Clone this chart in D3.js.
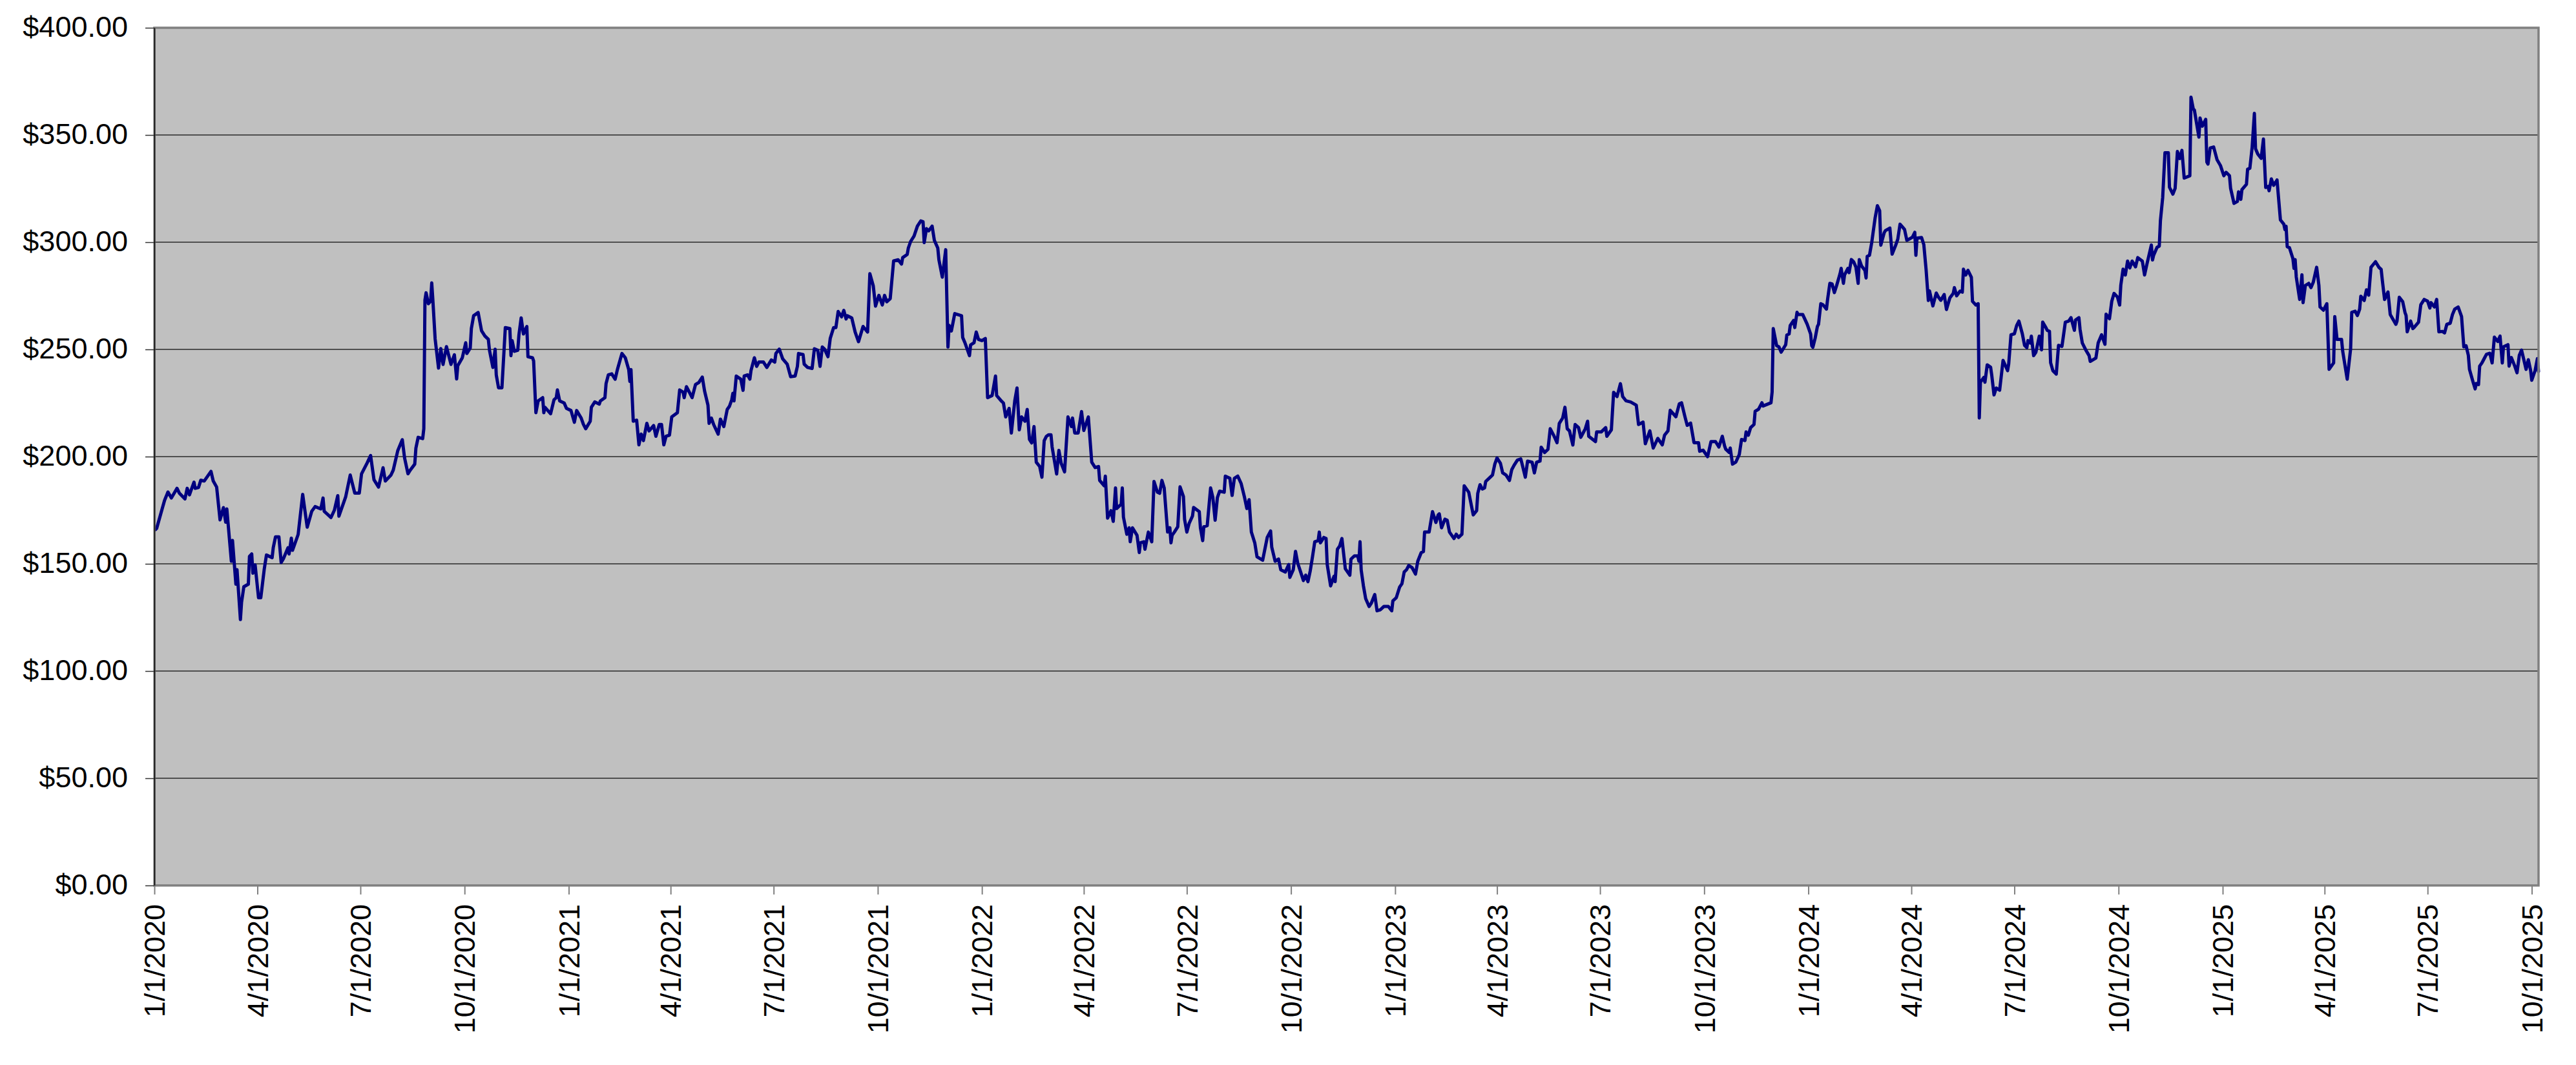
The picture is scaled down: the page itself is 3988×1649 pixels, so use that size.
<!DOCTYPE html>
<html><head><meta charset="utf-8">
<script src="https://cdn.jsdelivr.net/npm/d3@7"></script>
<style>html,body{margin:0;padding:0;background:#fff;} svg{display:block;}</style>
</head><body><svg id="chart" width="3988" height="1649"></svg>
<script>
const dates2020 = [
"01-02","01-03","01-10","01-13","01-16","01-21","01-23","01-28","01-30","02-01",
"02-05","02-06","02-09","02-11","02-14","02-20","02-22","02-25","02-28","03-02",
"03-04","03-05","03-09","03-10","03-13","03-14","03-17","03-18","03-20","03-24",
"03-25","03-27","03-28","03-30","04-02","04-04","04-07","04-09","04-14","04-15",
"04-17","04-20","04-22","04-24","04-28","04-29","05-01","05-02","05-07","05-11",
"05-15","05-19","05-22","05-27","05-29","05-30","06-05","06-08","06-11","06-12",
"06-18","06-22","06-26","06-30","07-02","07-07","07-10","07-13","07-17","07-21",
"07-23","07-28","07-30","08-03","08-07","08-09","08-12","08-14","08-18","08-19",
"08-21","08-25","08-26","08-27","08-28","08-30","09-01","09-02","09-03","09-05",
"09-08","09-10","09-12","09-15","09-19","09-22","09-24","09-25","09-29","10-02",
"10-03","10-06","10-07","10-09","10-13","10-16","10-19","10-22","10-23","10-26",
"10-28","10-29","10-31","11-03","11-06","11-10","11-11","11-12","11-14","11-17",
"11-18","11-20","11-22","11-25","11-26","11-30","12-01","12-03","12-05","12-09",
"12-10","12-11","12-16","12-19","12-21","12-22","12-24","12-28","12-30"];
const prices2020 = [
166,166.5,179.6,183.5,180.7,185.2,183,180.3,185.2,182.2,
188.1,185.2,185.6,189,188.6,193.1,188.6,185.8,170.5,176.2,
169.4,175.6,151.2,160.9,140.5,147.3,124,132,139.3,140.5,
153.5,154.6,145.6,149.5,134.2,134.2,147.3,154.1,152.9,157.5,
162.6,162.6,150.6,152.4,157.5,154.6,162,156.3,163.7,182.4,
167.1,174.5,176.7,175.6,180.7,174.5,171.6,175,181.8,172.2,
181.3,191.4,183,183,192,197.1,200.5,189.2,185.8,194.8,
188.6,191.4,193.7,202.8,207.9,199.4,192,193.7,196.5,203.9,
209,208.4,213,273,276.4,271.3,272.5,281,273,254.9,
241.3,250.4,243,251.3,243,247.5,236.2,242.4,246.1,253.1,
248.1,250.6,259.7,265.7,267.2,258.7,256.2,254.7,249.6,241.6,
250.1,238.1,232.1,232.1,260.2,259.7,247.1,254.1,249.1,249.6,
256.7,264.7,257.2,260.7,246.6,246.1,244.6,220.5,226,227.5,
220.5,223,220,226.5,227.5,231.1,226,225,222.5];

const dates2021 = [
"01-03","01-06","01-08","01-12","01-14","01-16","01-20","01-21","01-24","01-28",
"01-29","02-02","02-03","02-05","02-08","02-11","02-13","02-17","02-20","02-23",
"02-24","02-25","02-27","03-02","03-04","03-06","03-08","03-11","03-13","03-17",
"03-19","03-22","03-24","03-26","03-28","03-31","04-02","04-07","04-09","04-12",
"04-13","04-15","04-17","04-20","04-23","04-26","04-29","05-01","05-04","05-05",
"05-07","05-09","05-13","05-15","05-18","05-21","05-23","05-25","05-26","05-27",
"05-29","06-02","06-04","06-05","06-08","06-10","06-11","06-14","06-16","06-18",
"06-22","06-25","06-29","07-02","07-03","07-06","07-09","07-13","07-16","07-20",
"07-22","07-23","07-27","07-28","07-31","08-04","08-06","08-09","08-11","08-13",
"08-15","08-18","08-20","08-23","08-25","08-27","08-30","09-01","09-03","09-04",
"09-08","09-11","09-14","09-18","09-22","09-24","09-27","09-29","10-02","10-05",
"10-07","10-09","10-12","10-15","10-19","10-22","10-23","10-27","10-28","10-30",
"11-02","11-05","11-08","11-10","11-11","11-13","11-15","11-18","11-20","11-23",
"11-24","11-27","11-30","12-02","12-03","12-05","12-08","12-14","12-15","12-17",
"12-21","12-22","12-25","12-27","12-29"];
const prices2021 = [
221.5,216,221.5,218,215,213,216.5,223,225.5,224.5,
226,227.5,234.1,238.1,238.6,236.1,240.6,248.1,246.1,240.6,
235.1,240.6,216.5,217,205.5,210.5,207.5,215.5,212,214.5,
209.5,215,215,205.5,209.5,210,218.5,220.5,231.1,230.1,
227.5,232.6,230.6,227.5,233.6,234.6,237.1,230.6,224,215.5,
218,215,210.5,217.5,214,222,223.5,226.5,229.5,226,
237.6,236.1,230.9,237.6,238.1,236.1,240.1,246.1,242.1,244.1,
244.1,241.6,245.1,244.1,248.1,250.1,245.6,243.1,237.3,237.6,
242.1,248.1,247.6,243.1,241.6,241.1,250.3,249.6,242.1,251.1,
250.1,246.6,255.1,260.2,260.2,267.7,265.2,268.2,264.2,265.7,
264.7,258.1,253.6,260.7,258.1,285.3,279.7,270.2,275.2,270.7,
275.2,272.2,273.7,291.3,291.8,289.8,292.8,294.3,297.3,300.3,
302.8,307.5,309.9,309.5,299.8,306.3,305.3,307.5,300.8,297.3,
291.8,283.7,296.5,251.1,261.2,258.6,266.7,265.7,255.6,253.1,
247.1,252.1,253.1,258.1,254.6];

const dates2022 = [
"01-01","01-04","01-06","01-10","01-13","01-14","01-18","01-20","01-22","01-25",
"01-27","01-30","02-01","02-03","02-05","02-08","02-10","02-12","02-14","02-16",
"02-18","02-21","02-23","02-25","02-27","03-01","03-03","03-04","03-08","03-10",
"03-12","03-15","03-18","03-21","03-22","03-24","03-27","03-30","04-01","04-05",
"04-08","04-11","04-14","04-15","04-19","04-20","04-22","04-25","04-27","04-29",
"04-30","05-04","05-05","05-06","05-09","05-11","05-12","05-14","05-18","05-20",
"05-21","05-24","05-25","05-28","05-31","06-02","06-05","06-07","06-09","06-11",
"06-14","06-16","06-17","06-18","06-20","06-23","06-25","06-28","06-29","07-01",
"07-03","07-06","07-07","07-12","07-13","07-15","07-16","07-19","07-22","07-24",
"07-26","07-28","07-30","08-03","08-04","08-08","08-10","08-12","08-15","08-18",
"08-21","08-23","08-25","08-27","08-30","09-01","09-06","09-10","09-13","09-14",
"09-17","09-20","09-22","09-26","09-29","09-30","10-03","10-05","10-07","10-12",
"10-14","10-16","10-18","10-20","10-22","10-25","10-26","10-27","10-30","11-01",
"11-02","11-05","11-08","11-09","11-11","11-13","11-15","11-18","11-22","11-23",
"11-26","11-29","11-30","12-01","12-02","12-04","12-06","12-09","12-11","12-14",
"12-16","12-19","12-22","12-26","12-29","12-30"];
const prices2022 = [
254.1,255.1,227.5,228.5,237.6,228.5,226,225,218.5,222.5,
211,226,232,212.5,218.5,216.5,222,208,206.4,214,
197.4,195.4,190.4,207.4,209.5,210.2,210.2,204.5,191.9,202.9,
196.9,192.9,218.5,214,218,211,211,221,212.2,218.5,
197.4,194.9,195.4,188.9,186.4,190.9,171.3,174.8,169.8,185.4,
175.8,177.8,185.4,171.8,163.8,166.8,160.3,166.8,163.3,155.3,
159.8,160.3,156.8,164.8,160.3,188.4,183.4,182.9,188.9,185.4,
164.8,166.8,159.8,163.3,164.8,167.3,185.9,181.4,170.8,164.8,
168.8,172.3,176.3,174.3,166.8,160.8,167.3,167.8,185.4,180.9,
170.3,180.9,183.9,183.4,190.9,189.9,181.9,189.9,190.9,187.4,
180.9,175.8,179.9,164.8,159.8,153.3,151.7,162.3,165.3,157.8,
151.2,152.2,147.2,146.2,149.7,143.7,147.2,155.8,150.2,142.2,
144.7,141.7,146.7,153.3,160.3,160.8,164.8,159.8,162.3,161.8,
149.7,139.7,144.2,141.7,156.8,158.3,161.8,147.7,144.7,152.2,
153.7,153.7,151.2,160.3,147.2,139.7,133.7,130.1,131.7,135.7,
128.1,128.6,130.1,130.1,128.1,132.7];

const dates2023 = [
"01-02","01-05","01-07","01-09","01-11","01-13","01-16","01-19","01-21","01-24",
"01-26","01-27","01-31","02-03","02-06","02-08","02-09","02-11","02-14","02-16",
"02-18","02-22","02-24","02-26","03-01","03-03","03-07","03-11","03-14","03-15",
"03-17","03-19","03-21","03-22","03-26","03-28","03-30","04-01","04-04","04-06",
"04-09","04-12","04-14","04-16","04-19","04-22","04-23","04-26","04-28","05-02",
"05-04","05-06","05-09","05-10","05-13","05-16","05-18","05-21","05-24","05-26",
"05-29","05-31","06-02","06-04","06-07","06-09","06-12","06-14","06-16","06-18",
"06-20","06-21","06-27","06-28","07-02","07-06","07-07","07-11","07-13","07-16",
"07-19","07-21","07-24","07-28","08-02","08-04","08-06","08-08","08-10","08-14",
"08-17","08-21","08-25","08-27","08-30","09-01","09-06","09-09","09-11","09-14",
"09-16","09-19","09-22","09-26","09-27","09-30","10-04","10-07","10-11","10-14",
"10-17","10-19","10-20","10-23","10-24","10-26","10-29","11-01","11-03","11-06",
"11-07","11-09","11-11","11-14","11-15","11-18","11-21","11-22","11-29","11-30",
"12-01","12-04","12-06","12-08","12-12","12-13","12-15","12-16","12-19","12-20",
"12-22","12-23","12-27","12-31"];
const prices2023 = [
134.2,139.2,140.7,146.2,147.2,149.2,148.2,145.2,151.2,155.2,
155.7,164.8,164.8,174.3,169.3,172.8,173.3,166.8,170.8,170.3,
164.8,161.8,163.8,162.3,163.8,186.4,183.4,172.8,174.8,182.9,
186.9,184.9,185.4,188.4,190.4,191.4,196.4,199.4,196.9,192.4,
191.4,188.9,193.9,195.9,198.4,198.9,196.9,190.4,197.9,197.4,
192.4,197.4,197.9,204.4,201.9,203.4,213,210,206.5,215.5,
218,223,213,212,205.4,215,213.5,209,211,213,
216.5,209.5,207,211.5,211.5,213.5,209.5,212.5,230,228,
234,228,226,225.5,224,215,215.5,216.1,206,212,
204,208.5,205.5,210,212,221.6,218.6,224.6,225.1,218.6,
214.6,215.6,206.5,206.5,202.5,203,200,207,207,204.5,
209.5,205,203.5,202,204,196.5,197.5,201,208,207.5,
211.5,210,213.5,215,221.1,222.1,225.1,223.6,225.1,230.1,
259.7,251.7,251.2,248.7,252.2,256.7,257.2,261.2,263.5,260.2,
267.3,266.3,266.3,261.7];

const dates2024 = [
"01-03","01-04","01-05","01-07","01-09","01-10","01-12","01-14","01-17","01-18",
"01-20","01-22","01-24","01-26","01-29","01-30","02-01","02-02","02-05","02-06",
"02-08","02-10","02-12","02-14","02-15","02-17","02-20","02-21","02-22","02-24",
"02-26","02-29","03-02","03-04","03-05","03-08","03-09","03-13","03-15","03-18",
"03-20","03-22","03-24","03-26","03-28","03-30","04-02","04-04","04-05","04-06",
"04-10","04-12","04-14","04-16","04-17","04-20","04-23","04-25","04-27","04-30",
"05-02","05-05","05-08","05-09","05-11","05-14","05-16","05-17","05-19","05-21",
"05-24","05-25","05-28","05-30","05-31","06-01","06-04","06-05","06-07","06-10",
"06-11","06-13","06-15","06-18","06-21","06-25","06-26","06-28","07-01","07-03",
"07-05","07-08","07-10","07-12","07-13","07-15","07-16","07-18","07-20","07-23",
"07-25","07-26","07-29","07-30","08-01","08-02","08-04","08-07","08-09","08-12",
"08-13","08-15","08-18","08-20","08-23","08-24","08-27","08-28","08-30","09-02",
"09-05","09-06","09-11","09-13","09-16","09-19","09-20","09-23","09-25","09-27",
"09-30","10-02","10-03","10-05","10-07","10-09","10-11","10-13","10-16","10-18",
"10-22","10-24","10-26","10-30","10-31","11-01","11-04","11-06","11-07","11-09",
"11-11","11-14","11-15","11-18","11-20","11-22","11-24","11-26","11-28","12-03",
"12-04","12-06","12-07","12-11","12-12","12-14","12-17","12-18","12-19","12-21",
"12-24","12-27","12-30"];
const prices2024 = [
257.2,251.7,251,255.2,260.7,261.7,271.3,270.8,268.8,273.3,
280.8,280.5,276.5,279.8,285.3,287.8,280.8,284.8,287.8,285.8,
291.9,290.9,288.4,280.8,291.9,288.9,286.8,283.3,293.4,293.9,
299.9,311.4,317,314.7,298.6,304.4,305.4,306.6,294.4,298.4,
301.4,308.4,307.2,305.9,300.9,301.4,302.4,304.6,293.9,301.9,
302.2,298.9,287.3,272.8,277.3,270.3,276.3,274.3,272.9,275.6,
268.6,274,276.1,278.8,275,277.2,276.7,287.4,284.7,286.9,
283.6,272.4,270.7,271.3,218,234.7,236.9,234.7,242.8,241.7,
238,228.8,232,231,244.9,240.1,243.3,256.8,257.3,261.1,
263.2,257.3,251.9,250.8,254.1,253,256.2,247.1,248.7,256.2,
249.8,262.7,260,258.9,258.4,243.8,240.1,238.5,251.9,251.4,
255.1,262.7,263.2,264.8,258.9,263.7,264.8,259.4,253,249.8,
247.1,244.4,246,253,256.8,252.4,266.4,264.3,272.4,276.1,
274.5,270.7,279.9,287.4,284.7,291.2,288,291.2,288.5,292.8,
291.2,284.7,289.6,298.7,291.7,293.9,297.6,298.2,310,320.8,
341.7,341.7,325.6,322.4,325.1,342.3,339,342.8,329.9,331,
367.6,362.2,361.6,349,357.9,354.1,357.3,337.4,336.4,343.9,
344.4,338.5,335.8];

const dates2025 = [
"01-02","01-04","01-07","01-08","01-11","01-14","01-15","01-17","01-18","01-22",
"01-23","01-25","01-27","01-29","01-30","02-01","02-04","02-06","02-08","02-10",
"02-11","02-13","02-15","02-18","02-21","02-24","02-25","02-26","02-27","03-01",
"03-04","03-05","03-06","03-07","03-10","03-12","03-13","03-15","03-18","03-20",
"03-22","03-25","03-27","03-28","03-31","04-03","04-05","04-09","04-10","04-12",
"04-16","04-17","04-21","04-24","04-25","04-28","04-30","05-02","05-03","05-06",
"05-08","05-10","05-12","05-16","05-19","05-21","05-22","05-24","05-27","05-29",
"06-03","06-04","06-06","06-09","06-11","06-12","06-13","06-16","06-18","06-19",
"06-23","06-25","06-28","07-01","07-03","07-04","07-07","07-09","07-11","07-14",
"07-16","07-18","07-21","07-23","07-25","07-28","07-31","08-02","08-04","08-06",
"08-07","08-10","08-12","08-13","08-15","08-16","08-18","08-20","08-22","08-25",
"08-27","08-29","09-01","09-03","09-05","09-06","09-10","09-11","09-13","09-16",
"09-18","09-20","09-22","09-24","09-26","09-28","09-30","10-01","10-04","10-06",
"10-07"];
const prices2025 = [
331,332.6,331,325.1,318.1,319,323.5,320,324.5,327,
334,334.5,344.1,360.1,343.6,341.1,339.1,348.1,325.5,326,
324,329.5,326.5,329,310.4,308.4,305.9,307.4,297.9,297.4,
292.4,287.8,291.9,283.8,273.3,284.8,271.8,279.8,280.8,278.8,
281.3,288.3,279.8,269.8,268.3,271.3,240.7,243.7,265.3,254.7,
254.7,249.2,236.1,250.2,267.3,267.8,265.8,268.8,274.8,272.8,
277.8,275.3,288.3,290.9,288.3,287.3,282.3,273.3,276.8,266.3,
261.7,263.2,274.3,272.3,267.3,265.8,258.2,263.2,259.7,260.2,
262.7,270.8,273.3,272.5,269.3,271.8,269.8,273.3,258.2,258.4,
257.7,261.7,262.2,266.3,268.8,269.8,265.3,251.2,251.7,247.2,
240.7,235.1,231.6,234.1,233.6,242.2,243.7,245.7,247.7,248.2,
243.7,255.7,253.7,256.2,243.7,251.2,252.2,242.2,246.2,242.2,
239.1,247.2,249.7,245.2,240.7,245.2,240.2,235.6,240.2,245.7,
239.7];

const yTickValues = [0, 50, 100, 150, 200, 250, 300, 350, 400];
const xTickLabels = ["1/1/2020","4/1/2020","7/1/2020","10/1/2020",
  "1/1/2021","4/1/2021","7/1/2021","10/1/2021",
  "1/1/2022","4/1/2022","7/1/2022","10/1/2022",
  "1/1/2023","4/1/2023","7/1/2023","10/1/2023",
  "1/1/2024","4/1/2024","7/1/2024","10/1/2024",
  "1/1/2025","4/1/2025","7/1/2025","10/1/2025"];
const xDomain = ["2020-01-01", "2025-10-07"];

const parseISO = d3.utcParse("%Y-%m-%d");
const parseMDY = d3.utcParse("%m/%d/%Y");
const yearSets = [
  [2020, dates2020, prices2020], [2021, dates2021, prices2021], [2022, dates2022, prices2022],
  [2023, dates2023, prices2023], [2024, dates2024, prices2024], [2025, dates2025, prices2025]
];
const series = [];
yearSets.forEach(([yr, ds, ps]) => {
  const n = Math.min(ds.length, ps.length);
  for (let i = 0; i < n; i++) series.push({date: parseISO(yr + "-" + ds[i]), price: ps[i]});
});
series.sort((a, b) => a.date - b.date);

const M = {left: 239, right: 3930, top: 43, bottom: 1371};
const FONT = "'Liberation Sans', Arial, Helvetica, sans-serif";

const x = d3.scaleUtc().domain(xDomain.map(parseISO)).range([M.left, M.right]);
const y = d3.scaleLinear().domain([0, 400]).range([M.bottom, M.top]);

const svg = d3.select("#chart");
svg.append("rect").attr("width", 3988).attr("height", 1649).attr("fill", "#ffffff");

// plot background
svg.append("rect")
  .attr("x", M.left).attr("y", M.top)
  .attr("width", M.right - M.left).attr("height", M.bottom - M.top)
  .attr("fill", "#c0c0c0");

// gridlines
svg.append("g").selectAll("line")
  .data(yTickValues.filter(v => v > 0 && v < 400))
  .join("line")
  .attr("x1", M.left).attr("x2", M.right)
  .attr("y1", d => y(d)).attr("y2", d => y(d))
  .attr("stroke", "#2a2a2a").attr("stroke-width", 1.5);

// price line
svg.append("path")
  .datum(series)
  .attr("fill", "none")
  .attr("stroke", "#000080")
  .attr("stroke-width", 5)
  .attr("stroke-linejoin", "round")
  .attr("stroke-linecap", "round")
  .attr("d", d3.line().x(d => x(d.date)).y(d => y(d.price)));

// plot border
svg.append("rect")
  .attr("x", M.left).attr("y", M.top)
  .attr("width", M.right - M.left).attr("height", M.bottom - M.top)
  .attr("fill", "none").attr("stroke", "#808080").attr("stroke-width", 3.5);

// y axis
const yAxis = d3.axisLeft(y)
  .tickValues(yTickValues)
  .tickFormat(d => "$" + d3.format(".2f")(d))
  .tickSize(14).tickSizeOuter(0).tickPadding(27);
svg.append("g")
  .attr("transform", `translate(${M.left},0)`)
  .call(yAxis)
  .call(g => g.attr("font-size", 45).attr("font-family", FONT))
  .call(g => g.select(".domain").attr("stroke", "#000").attr("stroke-width", 1.5))
  .call(g => g.selectAll(".tick line").attr("stroke", "#333").attr("stroke-width", 1.5))
  .call(g => g.selectAll(".tick text").attr("fill", "#000").attr("dy", "0.3em"));

// x axis
const xAxis = d3.axisBottom(x)
  .tickValues(xTickLabels.map(parseMDY))
  .tickFormat((d, i) => xTickLabels[i])
  .tickSize(14).tickSizeOuter(0);
svg.append("g")
  .attr("transform", `translate(0,${M.bottom})`)
  .call(xAxis)
  .call(g => g.attr("font-size", 45).attr("font-family", FONT))
  .call(g => g.select(".domain").remove())
  .call(g => g.selectAll(".tick line").attr("stroke", "#808080").attr("stroke-width", 2))
  .call(g => g.selectAll(".tick text")
    .attr("fill", "#000")
    .attr("transform", "rotate(-90)")
    .attr("text-anchor", "end")
    .attr("x", -29).attr("y", 0)
    .attr("dy", "0.35em"));
</script>
</body></html>
